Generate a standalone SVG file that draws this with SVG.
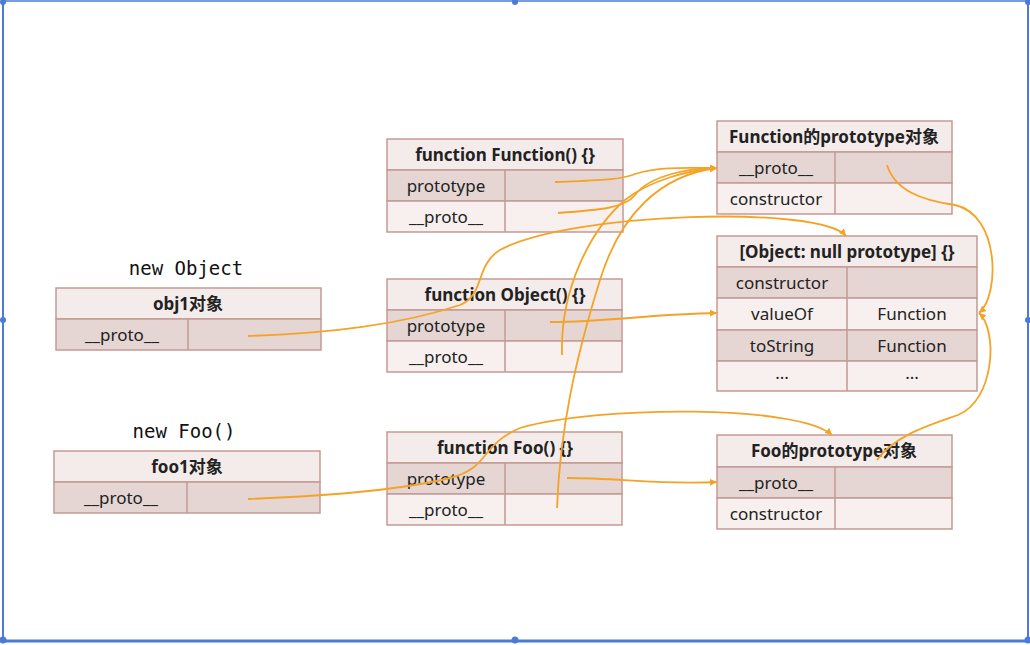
<svg xmlns="http://www.w3.org/2000/svg" width="1030" height="645" viewBox="0 0 1030 645">
<style>
.hdr{fill:#f4ecea;stroke:#c39a95;stroke-width:1.5}
.dk{fill:#e5d6d3;stroke:#c39a95;stroke-width:1.5}
.lt{fill:#f7f0ee;stroke:#c39a95;stroke-width:1.5}
.dv{stroke:#c39a95;stroke-width:1.5}
.t{font-family:"Noto Sans","Noto Sans CJK SC",sans-serif;font-size:17px;fill:#222;text-anchor:middle}
.b{font-weight:bold}
.m{font-family:"DejaVu Sans Mono","Liberation Mono",monospace;font-size:19px;fill:#111;text-anchor:middle}
.c{fill:none;stroke:#f5a326;stroke-width:1.8}
.fr{stroke:#4a7bd6;fill:none}
.h{fill:#4a7bd6}
</style>
<defs>
<marker id="ar" viewBox="0 0 10 10" refX="10" refY="5" markerWidth="7" markerHeight="7" orient="auto" markerUnits="userSpaceOnUse">
<path d="M0,0 L10,5 L0,10 z" fill="#f5a326"/>
</marker>
</defs>
<rect x="0" y="0" width="1030" height="645" fill="#fff"/>
<g id="frame">
<line class="fr" x1="3" y1="1" x2="1028" y2="1" stroke-width="1.5" stroke="#a9c4ee"/>
<line class="fr" x1="3" y1="1" x2="3" y2="640" stroke-width="2"/>
<line class="fr" x1="1028" y1="1" x2="1028" y2="640" stroke-width="2"/>
<line class="fr" x1="3" y1="641" x2="1028" y2="641" stroke-width="3"/>
<circle class="h" cx="3" cy="2" r="3"/><circle class="h" cx="515" cy="2" r="3"/><circle class="h" cx="1028" cy="2" r="3"/>
<circle class="h" cx="3" cy="320" r="3"/><circle class="h" cx="1028" cy="320" r="3"/>
<circle class="h" cx="3" cy="640" r="3.5"/><circle class="h" cx="515" cy="640" r="3.5"/><circle class="h" cx="1028" cy="640" r="3.5"/>
</g>
<g id="FunctionFunction">
<rect class="hdr" x="387" y="139" width="236" height="31"/>
<rect class="dk" x="387" y="170" width="236" height="31"/>
<rect class="lt" x="387" y="201" width="236" height="31"/>
<line class="dv" x1="505" y1="170" x2="505" y2="232"/>
<text class="t b" x="505" y="161">function Function() {}</text>
<text class="t" x="446" y="192">prototype</text>
<text class="t" x="446" y="223">__proto__</text>
</g>
<g id="FunctionPrototype">
<rect class="hdr" x="717" y="121" width="235" height="31"/>
<rect class="dk" x="717" y="152" width="235" height="31"/>
<rect class="lt" x="717" y="183" width="235" height="31"/>
<line class="dv" x1="835" y1="152" x2="835" y2="214"/>
<text class="t b" x="834" y="143">Function的prototype对象</text>
<text class="t" x="776" y="174">__proto__</text>
<text class="t" x="776" y="205">constructor</text>
</g>
<g id="ObjectPrototype">
<rect class="hdr" x="717" y="236" width="260" height="31"/>
<rect class="dk" x="717" y="267" width="260" height="31"/>
<rect class="lt" x="717" y="298" width="260" height="32"/>
<rect class="dk" x="717" y="330" width="260" height="31"/>
<rect class="lt" x="717" y="361" width="260" height="30"/>
<line class="dv" x1="847" y1="267" x2="847" y2="391"/>
<text class="t b" x="847" y="258">[Object: null prototype] {}</text>
<text class="t" x="782" y="289">constructor</text>
<text class="t" x="782" y="320">valueOf</text>
<text class="t" x="912" y="320">Function</text>
<text class="t" x="782" y="352">toString</text>
<text class="t" x="912" y="352">Function</text>
<text class="t" x="782" y="379">...</text>
<text class="t" x="912" y="379">...</text>
</g>
<g id="obj1">
<text class="m" x="186" y="275">new Object</text>
<rect class="hdr" x="56" y="288" width="265" height="31"/>
<rect class="dk" x="56" y="319" width="265" height="31"/>
<line class="dv" x1="188" y1="319" x2="188" y2="350"/>
<text class="t b" x="188" y="310">obj1对象</text>
<text class="t" x="122" y="341">__proto__</text>
</g>
<g id="FunctionObject">
<rect class="hdr" x="387" y="279" width="235" height="31"/>
<rect class="dk" x="387" y="310" width="235" height="31"/>
<rect class="lt" x="387" y="341" width="235" height="31"/>
<line class="dv" x1="505" y1="310" x2="505" y2="372"/>
<text class="t b" x="505" y="301">function Object() {}</text>
<text class="t" x="446" y="332">prototype</text>
<text class="t" x="446" y="363">__proto__</text>
</g>
<g id="foo1">
<text class="m" x="184" y="438">new Foo()</text>
<rect class="hdr" x="54" y="451" width="266" height="31"/>
<rect class="dk" x="54" y="482" width="266" height="31"/>
<line class="dv" x1="187" y1="482" x2="187" y2="513"/>
<text class="t b" x="187" y="473">foo1对象</text>
<text class="t" x="121" y="504">__proto__</text>
</g>
<g id="FunctionFoo">
<rect class="hdr" x="387" y="432" width="235" height="31"/>
<rect class="dk" x="387" y="463" width="235" height="31"/>
<rect class="lt" x="387" y="494" width="235" height="31"/>
<line class="dv" x1="505" y1="463" x2="505" y2="525"/>
<text class="t b" x="505" y="454">function Foo() {}</text>
<text class="t" x="446" y="485">prototype</text>
<text class="t" x="446" y="516">__proto__</text>
</g>
<g id="FooPrototype">
<rect class="hdr" x="717" y="435" width="235" height="32"/>
<rect class="dk" x="717" y="467" width="235" height="31"/>
<rect class="lt" x="717" y="498" width="235" height="31"/>
<line class="dv" x1="835" y1="467" x2="835" y2="529"/>
<text class="t b" x="834" y="457">Foo的prototype对象</text>
<text class="t" x="776" y="489">__proto__</text>
<text class="t" x="776" y="520">constructor</text>
</g>
<g id="connectors">
<path class="c" d="M555,182 C600,180 620,180 635,174 C660,166 690,168 717,168" marker-end="url(#ar)"/>
<path class="c" d="M558,213 C600,210 625,208 635,195 C650,175 690,168 717,168" marker-end="url(#ar)"/>
<path class="c" d="M562,355 C560,290 590,230 625,200 C650,180 690,170 717,168" marker-end="url(#ar)"/>
<path class="c" d="M557,508 C560,430 575,360 600,280 C620,215 660,175 717,168" marker-end="url(#ar)"/>
<path class="c" d="M887,165 C895,190 920,200 955,205 C1000,215 1000,295 979,313" marker-end="url(#ar)"/>
<path class="c" d="M877,460 C895,435 930,425 958,415 C995,400 998,330 979,313" marker-end="url(#ar)"/>
<path class="c" d="M248,336 C330,333 400,325 460,305 C485,295 475,265 500,250 C570,212 820,205 846,236" marker-end="url(#ar)"/>
<path class="c" d="M550,322 C610,322 650,314 717,313" marker-end="url(#ar)"/>
<path class="c" d="M248,499 C330,496 400,490 450,478 C490,468 480,445 520,428 C600,405 800,405 832,435" marker-end="url(#ar)"/>
<path class="c" d="M567,478 C620,478 660,485 717,482" marker-end="url(#ar)"/>
</g>
</svg>
